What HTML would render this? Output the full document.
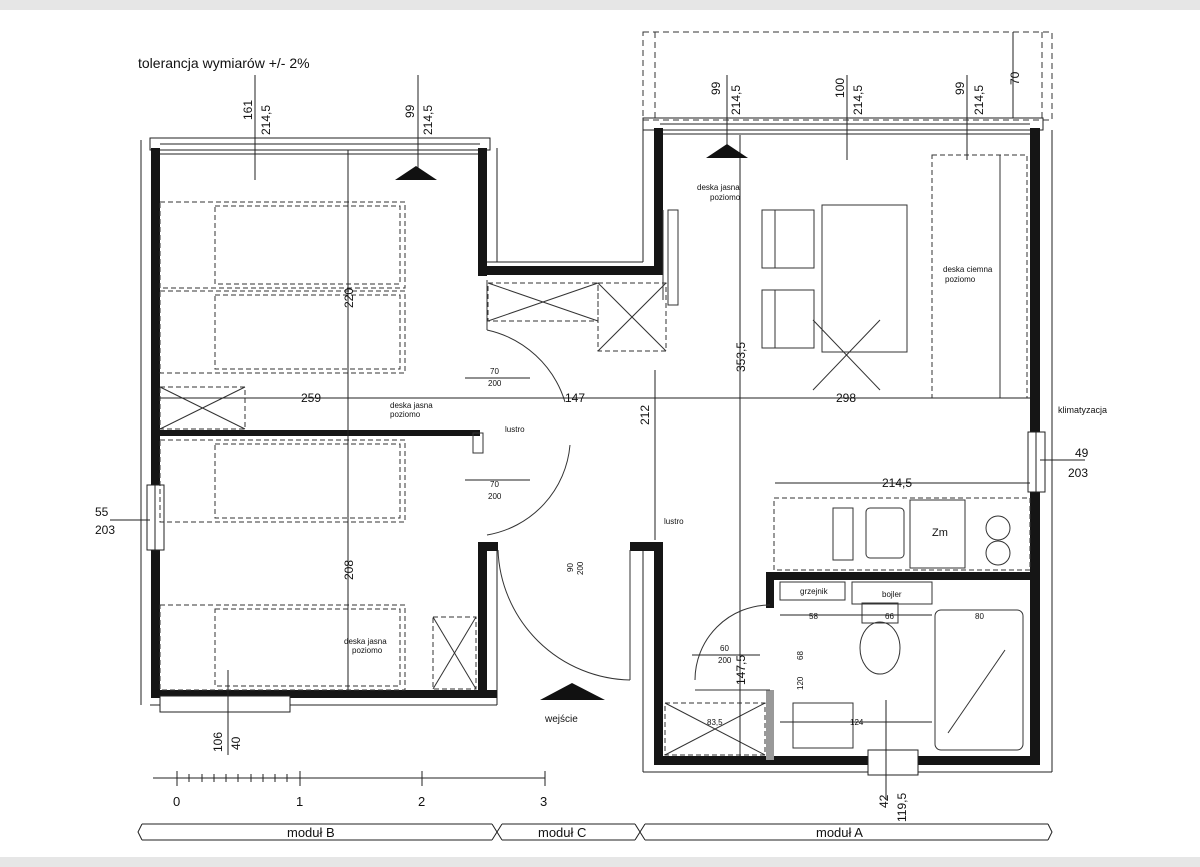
<!DOCTYPE html>
<html><head><meta charset="utf-8"><style>
html,body{margin:0;padding:0;background:#fff}
svg{display:block}
text{font-family:"Liberation Sans",sans-serif;fill:#111}
</style></head><body>
<svg width="1200" height="867" viewBox="0 0 1200 867" xmlns="http://www.w3.org/2000/svg">
<rect x="0" y="0" width="1200" height="10" fill="#e6e6e6"/>
<rect x="0" y="857" width="1200" height="10" fill="#e6e6e6"/>
<text x="138" y="68" font-size="14">tolerancja wymiarów +/- 2%</text>

<!-- balcony -->
<rect x="643" y="32" width="409" height="88" fill="none" stroke="#333" stroke-dasharray="6,4"/>
<line x1="655" y1="32" x2="655" y2="120" stroke="#333" stroke-dasharray="6,4"/>
<line x1="1042" y1="32" x2="1042" y2="120" stroke="#333" stroke-dasharray="6,4"/>

<g fill="none" stroke="#222" stroke-width="1">
<!-- window lines module B top -->
<rect x="150" y="138" width="340" height="12"/>
<line x1="160" y1="144" x2="480" y2="144"/>
<line x1="160" y1="154" x2="480" y2="154"/>
<!-- window lines module A top -->
<rect x="643" y="118" width="400" height="12"/>
<line x1="660" y1="124" x2="1030" y2="124"/>
<line x1="660" y1="134" x2="1030" y2="134"/>
<!-- outer thin lines -->
<line x1="141" y1="140" x2="141" y2="705"/>
<line x1="150" y1="705" x2="497" y2="705"/>
<line x1="497" y1="148" x2="497" y2="262"/>
<line x1="497" y1="545" x2="497" y2="705"/>
<line x1="643" y1="130" x2="643" y2="262"/>
<line x1="643" y1="545" x2="643" y2="772"/>
<line x1="643" y1="772" x2="1052" y2="772"/>
<line x1="1052" y1="130" x2="1052" y2="772"/>
<line x1="487" y1="262" x2="643" y2="262"/>
</g>

<!-- black walls -->
<g fill="#151515">
<rect x="151" y="148" width="9" height="549"/>
<rect x="151" y="690" width="346" height="8"/>
<rect x="478" y="148" width="9" height="128"/>
<rect x="478" y="266" width="185" height="9"/>
<rect x="654" y="128" width="9" height="147"/>
<rect x="478" y="542" width="9" height="156"/>
<rect x="478" y="542" width="20" height="9"/>
<rect x="630" y="542" width="33" height="9"/>
<rect x="654" y="542" width="9" height="223"/>
<rect x="654" y="756" width="386" height="9"/>
<rect x="1030" y="128" width="10" height="637"/>
<rect x="160" y="430" width="320" height="6"/>
<rect x="766" y="572" width="264" height="8"/>
<rect x="766" y="572" width="8" height="36"/>
<rect x="766" y="690" width="8" height="70" fill="#999"/>
</g>
<!-- windows in side walls -->
<rect x="147" y="485" width="17" height="65" fill="#fff" stroke="#222"/>
<line x1="155" y1="485" x2="155" y2="550" stroke="#222"/>
<rect x="1028" y="432" width="17" height="60" fill="#fff" stroke="#222"/>
<line x1="1036" y1="432" x2="1036" y2="492" stroke="#222"/>
<rect x="160" y="696" width="130" height="16" fill="#fff" stroke="#222"/>
<rect x="868" y="750" width="50" height="25" fill="#fff" stroke="#222"/>

<!-- dashed furniture -->
<g fill="none" stroke="#333" stroke-dasharray="5,3">
<rect x="160" y="202" width="245" height="86"/>
<rect x="160" y="291" width="245" height="82"/>
<rect x="215" y="206" width="185" height="78"/>
<rect x="215" y="295" width="185" height="74"/>
<rect x="160" y="387" width="85" height="42"/>
<rect x="160" y="440" width="245" height="82"/>
<rect x="215" y="444" width="185" height="74"/>
<rect x="160" y="605" width="245" height="85"/>
<rect x="215" y="609" width="185" height="77"/>
<rect x="433" y="617" width="43" height="72"/>
<rect x="488" y="283" width="110" height="38"/>
<rect x="598" y="283" width="68" height="68"/>
<rect x="932" y="155" width="95" height="243"/>
<rect x="774" y="498" width="256" height="72"/>
<rect x="665" y="703" width="100" height="52"/>
</g>
<g stroke="#333" fill="none">
<line x1="488" y1="283" x2="598" y2="321"/><line x1="598" y1="283" x2="488" y2="321"/>
<line x1="598" y1="283" x2="666" y2="351"/><line x1="666" y1="283" x2="598" y2="351"/>
<line x1="433" y1="617" x2="476" y2="689"/><line x1="476" y1="617" x2="433" y2="689"/>
<line x1="665" y1="703" x2="765" y2="755"/><line x1="765" y1="703" x2="665" y2="755"/>
<line x1="160" y1="387" x2="245" y2="429"/><line x1="245" y1="387" x2="160" y2="429"/>
<line x1="813" y1="390" x2="880" y2="320"/><line x1="813" y1="320" x2="880" y2="390"/>
<!-- table & chairs -->
<rect x="822" y="205" width="85" height="147"/>
<rect x="762" y="210" width="52" height="58"/>
<rect x="762" y="290" width="52" height="58"/>
<line x1="775" y1="210" x2="775" y2="268"/><line x1="775" y1="290" x2="775" y2="348"/>
<line x1="1000" y1="155" x2="1000" y2="398"/>
<!-- bathroom -->
<rect x="935" y="610" width="88" height="140" rx="6"/>
<line x1="948" y1="733" x2="1005" y2="650"/>
<ellipse cx="880" cy="648" rx="20" ry="26"/>
<rect x="862" y="603" width="36" height="20"/>
<rect x="793" y="703" width="60" height="45"/>
<rect x="852" y="582" width="80" height="22"/>
<rect x="780" y="582" width="65" height="18"/>
<rect x="833" y="508" width="20" height="52"/>
<rect x="866" y="508" width="38" height="50" rx="4"/>
<rect x="910" y="500" width="55" height="68"/>
<circle cx="998" cy="528" r="12"/><circle cx="998" cy="553" r="12"/>
<!-- doors -->
<path d="M487 330 A105 105 0 0 1 565 402"/>
<path d="M487 535 A100 100 0 0 0 570 445"/>
<path d="M498 550 A135 135 0 0 0 630 680"/>
<line x1="630" y1="550" x2="630" y2="680"/>
<path d="M770 605 A75 75 0 0 0 695 680"/>
<line x1="695" y1="690" x2="770" y2="690"/>
<line x1="487" y1="280" x2="487" y2="330"/>
<line x1="663" y1="210" x2="663" y2="300"/>
<rect x="668" y="210" width="10" height="95"/>
<rect x="473" y="433" width="10" height="20"/>
</g>

<!-- dimension lines -->
<g stroke="#222" stroke-width="1">
<line x1="160" y1="398" x2="1030" y2="398"/>
<line x1="348" y1="150" x2="348" y2="690"/>
<line x1="740" y1="135" x2="740" y2="756"/>
<line x1="655" y1="370" x2="655" y2="540"/>
<line x1="775" y1="483" x2="1030" y2="483"/>
<line x1="255" y1="75" x2="255" y2="180"/>
<line x1="418" y1="75" x2="418" y2="180"/>
<line x1="727" y1="75" x2="727" y2="150"/>
<line x1="847" y1="75" x2="847" y2="160"/>
<line x1="967" y1="75" x2="967" y2="160"/>
<line x1="1013" y1="32" x2="1013" y2="118"/>
<line x1="228" y1="670" x2="228" y2="755"/>
<line x1="886" y1="700" x2="886" y2="800"/>
<line x1="465" y1="378" x2="530" y2="378"/>
<line x1="465" y1="480" x2="530" y2="480"/>
<line x1="110" y1="520" x2="150" y2="520"/>
<line x1="1040" y1="460" x2="1085" y2="460"/>
<line x1="692" y1="655" x2="760" y2="655"/>
<line x1="780" y1="615" x2="932" y2="615"/>
<line x1="780" y1="722" x2="932" y2="722"/>
</g>
<polygon points="395,180 437,180 416,166" fill="#111"/>
<polygon points="706,158 748,158 727,144" fill="#111"/>
<polygon points="540,700 605,700 572,683" fill="#111"/>

<g font-size="12">
<text x="301" y="402">259</text>
<text x="565" y="402">147</text>
<text x="836" y="402">298</text>
<text x="882" y="487">214,5</text>
<text x="95" y="516">55</text><text x="95" y="534">203</text>
<text x="1075" y="457">49</text><text x="1068" y="477">203</text>
<text x="545" y="722" font-size="10">wejście</text>
<text x="1058" y="413" font-size="9">klimatyzacja</text>
</g>
<g font-size="8">
<text x="490" y="374">70</text><text x="488" y="386">200</text>
<text x="490" y="487">70</text><text x="488" y="499">200</text>
<text x="720" y="651">60</text><text x="718" y="663">200</text>
<text x="390" y="408">deska jasna</text><text x="390" y="417">poziomo</text>
<text x="697" y="190">deska jasna</text><text x="710" y="200">poziomo</text>
<text x="344" y="644">deska jasna</text><text x="352" y="653">poziomo</text>
<text x="943" y="272">deska ciemna</text><text x="945" y="282">poziomo</text>
<text x="505" y="432">lustro</text><text x="664" y="524">lustro</text>
<text x="800" y="594">grzejnik</text><text x="882" y="597">bojler</text>
<text x="809" y="619">58</text><text x="885" y="619">66</text><text x="975" y="619">80</text>
<text x="707" y="725">83,5</text><text x="850" y="725">124</text>
<text x="932" y="536" font-size="11">Zm</text>
</g>
<!-- rotated labels -->
<g font-size="12">
<text transform="translate(252,120) rotate(-90)">161</text>
<text transform="translate(270,135) rotate(-90)">214,5</text>
<text transform="translate(414,118) rotate(-90)">99</text>
<text transform="translate(432,135) rotate(-90)">214,5</text>
<text transform="translate(720,95) rotate(-90)">99</text>
<text transform="translate(740,115) rotate(-90)">214,5</text>
<text transform="translate(844,98) rotate(-90)">100</text>
<text transform="translate(862,115) rotate(-90)">214,5</text>
<text transform="translate(964,95) rotate(-90)">99</text>
<text transform="translate(983,115) rotate(-90)">214,5</text>
<text transform="translate(1019,85) rotate(-90)">70</text>
<text transform="translate(353,308) rotate(-90)">220</text>
<text transform="translate(353,580) rotate(-90)">208</text>
<text transform="translate(649,425) rotate(-90)">212</text>
<text transform="translate(745,372) rotate(-90)">353,5</text>
<text transform="translate(745,685) rotate(-90)">147,5</text>
<text transform="translate(222,752) rotate(-90)">106</text>
<text transform="translate(240,750) rotate(-90)">40</text>
<text transform="translate(888,808) rotate(-90)">42</text>
<text transform="translate(906,822) rotate(-90)">119,5</text>
</g>
<g font-size="8">
<text transform="translate(573,572) rotate(-90)">90</text>
<text transform="translate(583,575) rotate(-90)">200</text>
<text transform="translate(803,690) rotate(-90)">120</text>
<text transform="translate(803,660) rotate(-90)">68</text>
</g>

<!-- scale -->
<g stroke="#222">
<line x1="153" y1="778" x2="545" y2="778"/>
<line x1="177" y1="771" x2="177" y2="786"/>
<line x1="300" y1="771" x2="300" y2="786"/>
<line x1="422" y1="771" x2="422" y2="786"/>
<line x1="545" y1="771" x2="545" y2="786"/>
<line x1="189" y1="774" x2="189" y2="782"/><line x1="202" y1="774" x2="202" y2="782"/>
<line x1="214" y1="774" x2="214" y2="782"/><line x1="226" y1="774" x2="226" y2="782"/>
<line x1="238" y1="774" x2="238" y2="782"/><line x1="251" y1="774" x2="251" y2="782"/>
<line x1="263" y1="774" x2="263" y2="782"/><line x1="275" y1="774" x2="275" y2="782"/>
<line x1="287" y1="774" x2="287" y2="782"/>
</g>
<g font-size="13">
<text x="173" y="806">0</text><text x="296" y="806">1</text>
<text x="418" y="806">2</text><text x="540" y="806">3</text>
</g>
<!-- module brackets -->
<g stroke="#222" fill="none">
<polyline points="142,824 138,832 142,840"/>
<line x1="142" y1="824" x2="492" y2="824"/><line x1="142" y1="840" x2="492" y2="840"/>
<polyline points="492,824 497,832 492,840"/>
<polyline points="502,824 497,832 502,840"/>
<line x1="502" y1="824" x2="635" y2="824"/><line x1="502" y1="840" x2="635" y2="840"/>
<polyline points="635,824 640,832 635,840"/>
<polyline points="645,824 640,832 645,840"/>
<line x1="645" y1="824" x2="1048" y2="824"/><line x1="645" y1="840" x2="1048" y2="840"/>
<polyline points="1048,824 1052,832 1048,840"/>
</g>
<g font-size="13">
<text x="287" y="837">moduł B</text>
<text x="538" y="837">moduł C</text>
<text x="816" y="837">moduł A</text>
</g>
</svg>
</body></html>
